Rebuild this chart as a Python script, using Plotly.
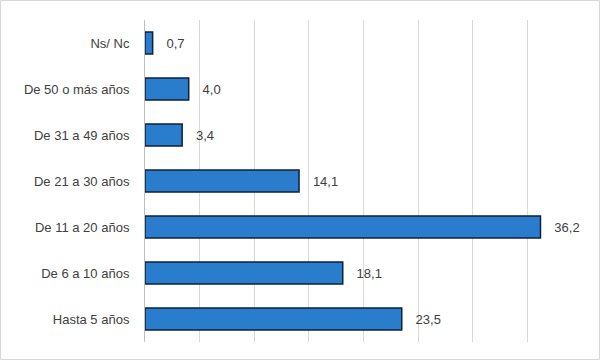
import plotly.graph_objects as go

categories = ["Hasta 5 años", "De 6 a 10 años", "De 11 a 20 años", "De 21 a 30 años",
              "De 31 a 49 años", "De 50 o más años", "Ns/ Nc"]
values = [23.5, 18.1, 36.2, 14.1, 3.4, 4.0, 0.7]
labels = ["\u00a0\u00a0\u00a0" + f"{v:.1f}".replace(".", ",") for v in values]

W, H = 600, 360
ml, mr, mt, mb = 145, 18, 20, 18
pw, ph = W - ml - mr, H - mt - mb

fig = go.Figure(go.Bar(
    y=categories, x=values, orientation="h",
    text=labels, textposition="outside", cliponaxis=False,
    textfont=dict(family="Liberation Sans, Arial", size=13, color="#404040"),
    marker=dict(color="#2a7dcc", line=dict(color="#0d2236", width=1.5)),
    width=0.48,
))

fig.update_layout(
    width=W, height=H,
    margin=dict(l=ml, r=mr, t=mt, b=mb),
    paper_bgcolor="white", plot_bgcolor="white",
    showlegend=False,
    font=dict(family="Liberation Sans, Arial", size=13, color="#404040"),
    xaxis=dict(range=[0, 40], dtick=5, showgrid=True, gridcolor="#d9d9d9", gridwidth=1,
               showticklabels=False, zeroline=False, showline=False, fixedrange=True),
    yaxis=dict(showgrid=False, showline=True, linecolor="#bfbfbf", linewidth=1,
               ticks="", ticklabelstandoff=12, automargin=False),
    shapes=[dict(type="rect", xref="paper", yref="paper",
                 x0=-(ml - 0.5) / pw, x1=1 + (mr - 0.5) / pw,
                 y0=-(mb - 0.5) / ph, y1=1 + (mt - 0.5) / ph,
                 line=dict(color="#d9d9d9", width=1), layer="below")],
)

fig.write_html("out.html", config={"displayModeBar": False},
               post_script="document.body.style.margin='0';document.body.style.padding='0';")
